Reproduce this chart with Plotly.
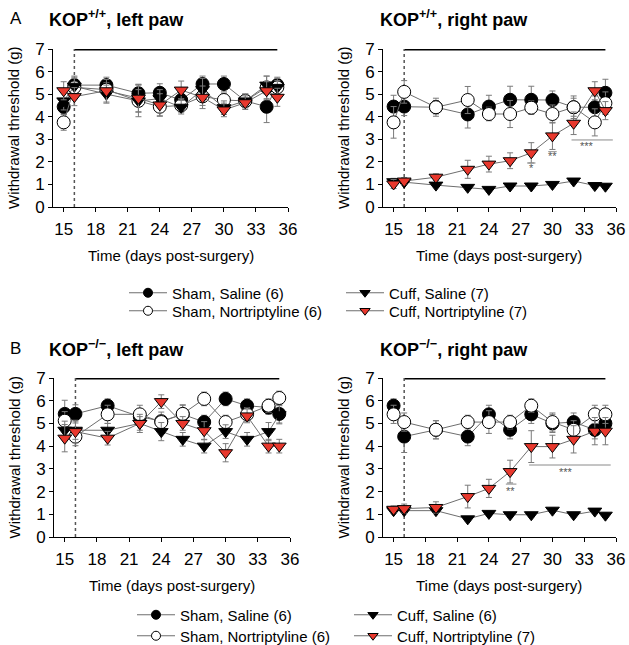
import plotly.graph_objects as go

W, H = 629, 645
FONT = "Liberation Sans, Arial, sans-serif"
RED = "#e8382d"
LINEC = "#6e6e6e"
ERRC = "#7a7a7a"

days = [15, 16, 19, 22, 24, 26, 28, 30, 32, 34, 35]
x_ticks = [15, 18, 21, 24, 27, 30, 33, 36]
y_ticks = [0, 1, 2, 3, 4, 5, 6, 7]
treatment_days = [16, 35]

# ---- Panel A, KOP+/+ left paw ----
a_l_sham_sal = [4.44, 5.40, 5.40, 5.04, 5.06, 4.74, 5.45, 5.45, 4.70, 4.44, 5.40]
a_l_sham_sal_err = [0.30, 0.40, 0.35, 0.40, 0.40, 0.30, 0.35, 0.35, 0.30, 0.70, 0.35]
a_l_sham_nort = [3.75, 5.30, 5.20, 4.70, 4.44, 4.50, 4.90, 4.74, 4.70, 5.30, 5.30]
a_l_sham_nort_err = [0.35, 0.40, 0.30, 0.50, 0.40, 0.30, 0.40, 0.30, 0.30, 0.50, 0.40]
a_l_cuff_sal = [4.70, 5.35, 5.00, 4.70, 4.80, 4.42, 5.20, 4.40, 4.70, 5.40, 5.30]
a_l_cuff_sal_err = [0.40, 0.40, 0.40, 0.70, 0.40, 0.30, 0.50, 0.30, 0.30, 0.40, 0.30]
a_l_cuff_nort = [5.15, 4.89, 5.15, 4.82, 4.52, 5.18, 4.86, 4.30, 4.62, 5.15, 4.86]
a_l_cuff_nort_err = [0.40, 0.40, 0.50, 0.60, 0.50, 0.40, 0.50, 0.30, 0.30, 0.40, 0.40]

# ---- Panel A, KOP+/+ right paw ----
a_r_sham_sal = [4.45, 4.45, 4.42, 4.10, 4.45, 4.75, 4.75, 4.74, 4.42, 4.42, 5.06]
a_r_sham_sal_err = [0.50, 0.40, 0.30, 0.60, 0.50, 0.60, 0.60, 0.40, 0.40, 0.50, 0.60]
a_r_sham_nort = [3.75, 5.10, 4.42, 4.74, 4.12, 4.12, 4.40, 4.12, 4.42, 3.75, 4.60]
a_r_sham_nort_err = [0.70, 0.50, 0.40, 0.60, 0.30, 0.60, 0.30, 0.40, 0.50, 0.60, 0.50]
a_r_cuff_sal = [1.12, 1.10, 0.97, 0.87, 0.78, 0.93, 0.93, 1.00, 1.15, 0.95, 0.92]
a_r_cuff_sal_err = [0.15, 0.10, 0.10, 0.10, 0.10, 0.10, 0.10, 0.10, 0.10, 0.10, 0.10]
a_r_cuff_nort = [1.02, 1.15, 1.32, 1.67, 1.90, 2.05, 2.40, 3.15, 3.71, 5.15, 4.27]
a_r_cuff_nort_err = [0.20, 0.15, 0.15, 0.40, 0.35, 0.35, 0.45, 0.60, 0.50, 0.40, 0.40]

# ---- Panel B, KOP-/- left paw ----
b_l_sham_sal = [5.42, 5.42, 5.78, 5.30, 5.10, 5.40, 5.06, 6.08, 5.78, 5.70, 5.42]
b_l_sham_sal_err = [0.60, 0.40, 0.30, 0.30, 0.40, 0.40, 0.30, 0.30, 0.30, 0.30, 0.40]
b_l_sham_nort = [5.12, 4.42, 5.40, 5.40, 5.06, 5.42, 6.08, 5.06, 5.40, 5.78, 6.12]
b_l_sham_nort_err = [0.40, 0.40, 0.40, 0.40, 0.30, 0.40, 0.30, 0.30, 0.30, 0.30, 0.30]
b_l_cuff_sal = [4.70, 4.70, 4.70, 5.00, 4.64, 4.30, 4.00, 4.64, 4.30, 4.64, 5.38]
b_l_cuff_sal_err = [0.40, 0.40, 0.30, 0.30, 0.40, 0.30, 0.30, 0.30, 0.30, 0.40, 0.40]
b_l_cuff_nort = [4.35, 4.64, 4.35, 5.00, 5.96, 5.00, 4.68, 3.71, 5.33, 4.00, 4.00]
b_l_cuff_nort_err = [0.60, 0.50, 0.30, 0.40, 0.30, 0.30, 0.40, 0.40, 0.30, 0.30, 0.30]

# ---- Panel B, KOP-/- right paw ----
b_r_sham_sal = [5.78, 4.42, 4.72, 4.42, 5.40, 4.72, 5.40, 5.00, 5.06, 4.72, 5.00]
b_r_sham_sal_err = [0.30, 0.70, 0.40, 0.40, 0.40, 0.40, 0.40, 0.40, 0.40, 0.40, 0.40]
b_r_sham_nort = [5.40, 5.06, 4.72, 5.06, 5.06, 5.06, 5.78, 5.06, 4.72, 5.40, 5.40]
b_r_sham_nort_err = [0.40, 0.40, 0.40, 0.30, 0.50, 0.30, 0.30, 0.40, 0.40, 0.40, 0.40]
b_r_cuff_sal = [1.16, 1.16, 1.16, 0.80, 1.04, 0.98, 0.98, 1.18, 0.98, 1.14, 0.96]
b_r_cuff_sal_err = [0.10, 0.10, 0.10, 0.10, 0.10, 0.10, 0.10, 0.10, 0.10, 0.10, 0.10]
b_r_cuff_nort = [1.22, 1.25, 1.30, 1.78, 2.14, 2.88, 3.98, 3.98, 4.30, 4.66, 4.66]
b_r_cuff_nort_err = [0.15, 0.20, 0.25, 0.50, 0.40, 0.50, 0.70, 0.50, 0.60, 0.60, 0.60]

# significance markers: (x0, x1, line_y, star_x, star_y, text)
a_r_sig = [(27.6, 28.4, 1.95, 28.0, 1.72, "*"),
           (29.6, 30.4, 2.45, 30.0, 2.26, "**"),
           (31.8, 35.7, 2.97, 33.3, 2.72, "***")]
b_r_sig = [(25.6, 26.6, 2.33, 26.0, 2.02, "**"),
           (27.8, 35.5, 3.17, 31.3, 2.88, "***")]

legend_a = ["Sham, Saline (6)", "Cuff, Saline (7)", "Sham, Nortriptyline (6)", "Cuff, Nortriptyline (7)"]
legend_b = ["Sham, Saline (6)", "Cuff, Saline (6)", "Sham, Nortriptyline (6)", "Cuff, Nortriptyline (7)"]

# style per group: sham saline, cuff saline, sham nort, cuff nort
styles = [
    dict(symbol="circle", color="black", size=13),
    dict(symbol="triangle-down", color="black", size=12),
    dict(symbol="circle", color="white", size=13),
    dict(symbol="triangle-down", color=RED, size=12),
]

panels = [
    dict(ax="", series=[(a_l_sham_sal, a_l_sham_sal_err), (a_l_cuff_sal, a_l_cuff_sal_err),
                        (a_l_sham_nort, a_l_sham_nort_err), (a_l_cuff_nort, a_l_cuff_nort_err)],
         sig=[], xpx=(53, 288), ypx=(207, 49)),
    dict(ax="2", series=[(a_r_sham_sal, a_r_sham_sal_err), (a_r_cuff_sal, a_r_cuff_sal_err),
                         (a_r_sham_nort, a_r_sham_nort_err), (a_r_cuff_nort, a_r_cuff_nort_err)],
         sig=a_r_sig, xpx=(383, 616), ypx=(207, 49)),
    dict(ax="3", series=[(b_l_sham_sal, b_l_sham_sal_err), (b_l_cuff_sal, b_l_cuff_sal_err),
                         (b_l_sham_nort, b_l_sham_nort_err), (b_l_cuff_nort, b_l_cuff_nort_err)],
         sig=[], xpx=(54, 290), ypx=(537, 378)),
    dict(ax="4", series=[(b_r_sham_sal, b_r_sham_sal_err), (b_r_cuff_sal, b_r_cuff_sal_err),
                         (b_r_sham_nort, b_r_sham_nort_err), (b_r_cuff_nort, b_r_cuff_nort_err)],
         sig=b_r_sig, xpx=(383, 616), ypx=(537, 378)),
]

fig = go.Figure()
layout = {}
annotations = []

# draw order: sham saline, sham nort, cuff saline, cuff nort
draw_order = [0, 2, 1, 3]

for p in panels:
    xa, ya = "x" + p["ax"], "y" + p["ax"]
    fig.add_trace(go.Scatter(x=treatment_days, y=[7, 7], mode="lines", xaxis=xa, yaxis=ya,
                             line=dict(color="black", width=3), cliponaxis=False,
                             showlegend=False, hoverinfo="skip"))
    fig.add_trace(go.Scatter(x=[treatment_days[0], treatment_days[0]], y=[0, 7], mode="lines",
                             xaxis=xa, yaxis=ya, line=dict(color="#555555", width=1.5, dash="dot"),
                             cliponaxis=False, showlegend=False, hoverinfo="skip"))
    for gi in draw_order:
        vals, err = p["series"][gi]
        st = styles[gi]
        fig.add_trace(go.Scatter(
            x=days, y=vals, mode="lines+markers", xaxis=xa, yaxis=ya,
            line=dict(color=LINEC, width=1),
            marker=dict(symbol=st["symbol"], color=st["color"], size=st["size"],
                        line=dict(color="black", width=1)),
            error_y=dict(type="data", array=err, visible=True, color=ERRC, thickness=1, width=3),
            cliponaxis=False, showlegend=False))
    for (x0, x1, ly, sx, sy, txt) in p["sig"]:
        fig.add_trace(go.Scatter(x=[x0, x1], y=[ly, ly], mode="lines", xaxis=xa, yaxis=ya,
                                 line=dict(color="#8a8a8a", width=1), cliponaxis=False,
                                 showlegend=False, hoverinfo="skip"))
        annotations.append(dict(x=sx, y=sy, xref=xa, yref=ya, text=txt, showarrow=False,
                                font=dict(family=FONT, size=11, color="#555555"),
                                xanchor="center", yanchor="middle"))
    axn = p["ax"]
    layout["xaxis" + axn] = dict(
        domain=[p["xpx"][0] / W, p["xpx"][1] / W], range=[14, 36], tickvals=x_ticks,
        ticks="outside", ticklen=4, tickcolor="black", showline=True, linecolor="black",
        linewidth=1, showgrid=False, zeroline=False, anchor="y" + axn, automargin=False,
        ticklabelstandoff=3, tickfont=dict(family=FONT, size=17, color="black"))
    layout["yaxis" + axn] = dict(
        domain=[1 - p["ypx"][0] / H, 1 - p["ypx"][1] / H], range=[0, 7], tickvals=y_ticks,
        ticks="outside", ticklen=4, tickcolor="black", showline=True, linecolor="black",
        linewidth=1, showgrid=False, zeroline=False, anchor="x" + axn, automargin=False,
        tickfont=dict(family=FONT, size=17, color="black"))
    xc = (p["xpx"][0] + p["xpx"][1]) / 2
    annotations.append(dict(x=xc / W, y=1 - (p["ypx"][0] + 48) / H, xref="paper", yref="paper",
                            text="Time (days post-surgery)", showarrow=False,
                            font=dict(family=FONT, size=15, color="black"),
                            xanchor="center", yanchor="middle"))
    annotations.append(dict(x=(p["xpx"][0] - 40) / W, y=1 - (p["ypx"][0] + p["ypx"][1]) / 2 / H,
                            xref="paper", yref="paper", text="Withdrawal threshold (g)",
                            showarrow=False, textangle=-90,
                            font=dict(family=FONT, size=15, color="black"),
                            xanchor="center", yanchor="middle"))

# panel titles
titles = [("A", 8, 18, "<b>KOP<sup>+/+</sup>, left paw</b>"),
          (None, 378, 18, "<b>KOP<sup>+/+</sup>, right paw</b>"),
          ("B", 8, 348, "<b>KOP<sup>\u2212/\u2212</sup>, left paw</b>"),
          (None, 378, 348, "<b>KOP<sup>\u2212/\u2212</sup>, right paw</b>")]
for letter, xpx, ypx, txt in titles:
    annotations.append(dict(x=(47 if letter else xpx) / W, y=1 - ypx / H, xref="paper", yref="paper",
                            text=txt, showarrow=False, font=dict(family=FONT, size=18, color="black"),
                            xanchor="left", yanchor="middle"))
    if letter:
        annotations.append(dict(x=xpx / W, y=1 - ypx / H, xref="paper", yref="paper", text=letter,
                                showarrow=False, font=dict(family=FONT, size=17, color="black"),
                                xanchor="left", yanchor="middle"))

# legend entries (legend-only traces), one legend per row
legend_rows = [("legend", legend_a[:2], [0, 1]), ("legend2", legend_a[2:], [2, 3]),
               ("legend3", legend_b[:2], [0, 1]), ("legend4", legend_b[2:], [2, 3])]
for leg_name, names, groups in legend_rows:
    for gi, name in zip(groups, names):
        st = styles[gi]
        fig.add_trace(go.Scatter(x=[None], y=[None], mode="lines+markers", name=name,
                                 legend=leg_name, xaxis="x", yaxis="y",
                                 line=dict(color=LINEC, width=1),
                                 marker=dict(symbol=st["symbol"], color=st["color"], size=9,
                                             line=dict(color="black", width=1)),
                                 showlegend=True))

leg_common = dict(orientation="h", xanchor="left", yanchor="middle", entrywidth=164, itemwidth=38,
                  font=dict(family=FONT, size=15, color="black"), bgcolor="rgba(0,0,0,0)",
                  traceorder="normal", itemclick=False, itemdoubleclick=False)
layout["legend"] = dict(leg_common, x=124 / W, y=1 - 293 / H)
layout["legend2"] = dict(leg_common, x=124 / W, y=1 - 311 / H)
layout["legend3"] = dict(leg_common, x=132 / W, y=1 - 615 / H)
layout["legend4"] = dict(leg_common, x=132 / W, y=1 - 636 / H)

fig.update_layout(**layout)
fig.update_layout(width=W, height=H, margin=dict(l=0, r=0, t=0, b=0, autoexpand=False),
                  paper_bgcolor="white", plot_bgcolor="white", annotations=annotations,
                  font=dict(family=FONT), showlegend=True)

fig.write_html("out.html", config={"displayModeBar": False},
               post_script="document.body.style.margin='0';document.body.style.overflow='hidden';")
